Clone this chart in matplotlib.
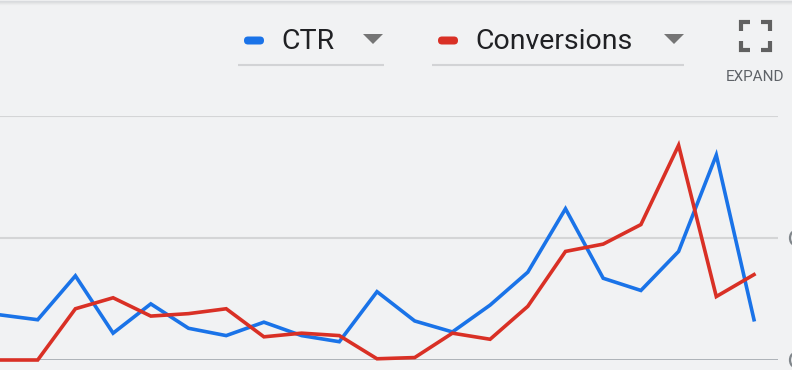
import numpy as np
import matplotlib
matplotlib.use("Agg")
import matplotlib.pyplot as plt
from matplotlib.patches import FancyBboxPatch, Polygon, Arc

plt.rcParams['font.family'] = ['Roboto', 'DejaVu Sans']

# values (gridlines at 1 and 2)
days = list(range(21))
ctr = [0.37, 0.33, 0.69, 0.22, 0.46, 0.26, 0.20, 0.31, 0.20, 0.15, 0.56,
       0.32, 0.23, 0.45, 0.72, 1.24, 0.67, 0.57, 0.89, 1.68, 0.33]
conversions = [0.0, 0.0, 0.42, 0.51, 0.36, 0.38, 0.42, 0.19, 0.22, 0.20, 0.01,
               0.02, 0.22, 0.17, 0.44, 0.89, 0.95, 1.11, 1.76, 0.52, 0.70]
series_names = ["CTR", "Conversions"]
series_colors = ["#1a73e8", "#d93025"]
bg = "#f1f2f3"

W, H = 792, 370
fig = plt.figure(figsize=(W / 100, H / 100), dpi=100, facecolor=bg)

# main plot area: baseline at y=360px, top gridline at y=116px, right end at 778px
ax = fig.add_axes([0, (H - 360) / H, 778 / W, (360 - 116) / H])
ax.set_facecolor(bg)
ax.plot(days, ctr, color=series_colors[0], lw=2.6, solid_joinstyle='miter', clip_on=False, zorder=3)
ax.plot(days, conversions, color=series_colors[1], lw=2.6, solid_joinstyle='miter', clip_on=False, zorder=3)
ax.set_xlim(0, 20 * 778 / 754)
ax.set_ylim(0, 2)
ax.set_yticks([1, 2])
ax.yaxis.grid(True, color="#d4d5d6", lw=1.5)
ax.set_axisbelow(True)
ax.tick_params(left=False, bottom=False, labelleft=False, labelbottom=False)
for s in ax.spines.values():
    s.set_visible(False)
ax.axhline(0, color="#9aa0a6", lw=1.8, zorder=2)

# overlay in pixel coordinates for the header controls
ov = fig.add_axes([0, 0, 1, 1], facecolor='none')
ov.set_xlim(0, W)
ov.set_ylim(H, 0)
ov.axis('off')

# top shadow
for i, a in enumerate([0.18, 0.12, 0.07, 0.035]):
    ov.axhline(i + 0.5, color="#80868b", alpha=a, lw=1.0)

# legend dropdowns
pill_x = [244, 438]
text_x = [281, 475]
tri_x = [373, 674]
line_span = [(238, 384), (432, 684)]
for k in range(2):
    ov.add_patch(FancyBboxPatch((pill_x[k], 36.5), 20, 8, boxstyle="round,pad=0,rounding_size=4",
                                fc=series_colors[k], ec='none'))
    ov.text(text_x[k], 41.5, series_names[k], fontsize=20.5, color="#202124", va='center', ha='left')
    ov.add_patch(Polygon([[tri_x[k] - 10, 34], [tri_x[k] + 10, 34], [tri_x[k], 44]],
                         closed=True, fc="#757575", ec='none'))
    ov.plot(line_span[k], [64.5, 64.5], color="#d2d3d5", lw=1.5, solid_capstyle='butt')

# expand icon
ic = "#616161"
x0, x1, y0, y1, arm = 741, 770, 22, 50, 9
for (cx, cy, dx, dy) in [(x0, y0, 1, 1), (x1, y0, -1, 1), (x0, y1, 1, -1), (x1, y1, -1, -1)]:
    ov.plot([cx + dx * arm, cx, cx], [cy, cy, cy + dy * arm], color=ic, lw=3,
            solid_joinstyle='miter', solid_capstyle='butt')
ov.text(755, 77, "EXPAND", fontsize=11, color="#5f6368", ha='center', va='center')

# left edges of the right-axis labels, cut off by the frame
for yy in [238, 360]:
    ov.add_patch(Arc((795, yy), 10, 14, theta1=100, theta2=260, color="#80868b", lw=1.6))

fig.savefig("out.png", dpi=100, facecolor=bg)
